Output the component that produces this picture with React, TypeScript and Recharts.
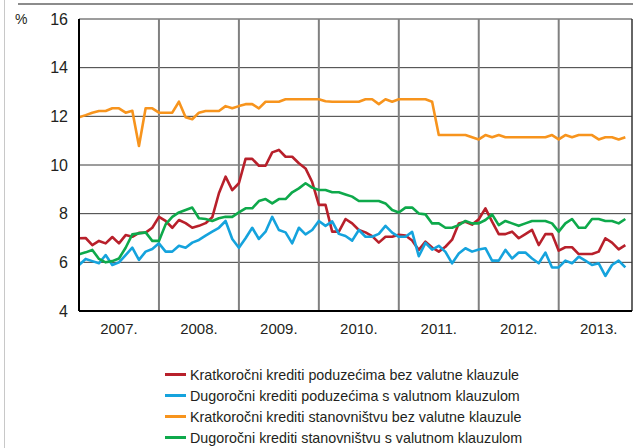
import { CartesianGrid, Line, LineChart, ReferenceLine, XAxis, YAxis } from 'recharts'

const years = ['2007.', '2008.', '2009.', '2010.', '2011.', '2012.', '2013.']
const yearTicks = years.map((_, i) => i * 12 + 6)
const yearBounds = [12, 24, 36, 48, 60, 72]
const yTicks = [4, 6, 8, 10, 12, 14, 16]

// mjesečne stope, siječanj 2007. – studeni 2013.
const kratkoPoduzeca = [
  6.99, 7.0, 6.71, 6.88, 6.78, 7.04, 6.78, 7.12, 7.05, 7.21,
  7.22, 7.42, 7.87, 7.7, 7.42, 7.74, 7.61, 7.42, 7.5, 7.61,
  7.85, 8.84, 9.52, 8.97, 9.25, 10.25, 10.25, 9.97, 9.97, 10.52,
  10.62, 10.34, 10.34, 10.07, 9.86, 9.3, 8.36, 8.36, 7.26, 7.26,
  7.78, 7.6, 7.33, 7.23, 7.08, 6.81, 7.05, 7.05, 7.13, 7.1,
  6.9, 6.51, 6.85, 6.61, 6.44, 6.64, 6.93, 7.6, 7.67, 7.55,
  7.77, 8.22, 7.67, 7.16, 7.16, 7.26, 6.99, 7.16, 7.33, 6.71,
  7.16, 7.16, 6.48, 6.62, 6.62, 6.34, 6.34, 6.34, 6.44, 6.99,
  6.81, 6.53, 6.71,
]
const dugoPoduzeca = [
  5.89, 6.14, 6.05, 5.96, 6.3, 5.89, 6.0, 6.3, 6.6, 6.1,
  6.44, 6.55, 6.78, 6.44, 6.44, 6.68, 6.6, 6.81, 6.92, 7.1,
  7.26, 7.42, 7.7, 6.96, 6.6, 6.99, 7.42, 6.96, 7.26, 7.87,
  7.33, 7.23, 6.78, 7.42, 7.15, 7.33, 7.7, 7.5, 7.68, 7.17,
  7.08, 6.89, 7.33, 7.05, 7.05, 7.17, 7.5, 7.22, 7.05, 7.05,
  7.25, 6.25, 6.8, 6.52, 6.68, 6.43, 5.96, 6.36, 6.58, 6.44,
  6.53, 6.58, 6.07, 6.07, 6.51, 6.16, 6.4, 6.4, 6.16, 5.96,
  6.4, 5.79, 5.79, 6.07, 5.96, 6.23, 6.07, 5.89, 5.96, 5.44,
  5.89, 6.07, 5.79,
]
const kratkoStanovnistvo = [
  11.96, 12.05, 12.15, 12.22, 12.22, 12.33, 12.33, 12.15, 12.23, 10.78,
  12.33, 12.33, 12.15, 12.15, 12.15, 12.6, 11.96, 11.88, 12.15, 12.22,
  12.22, 12.22, 12.42, 12.33, 12.42, 12.5, 12.5, 12.33, 12.6, 12.6,
  12.6, 12.7, 12.7, 12.7, 12.7, 12.7, 12.7, 12.62, 12.6, 12.6,
  12.6, 12.6, 12.6, 12.7, 12.7, 12.5, 12.7, 12.6, 12.7, 12.7,
  12.7, 12.7, 12.7, 12.6, 11.23, 11.23, 11.23, 11.23, 11.23, 11.14,
  11.05, 11.23, 11.14, 11.23, 11.14, 11.14, 11.14, 11.14, 11.14, 11.14,
  11.14, 11.23, 11.05, 11.23, 11.14, 11.23, 11.23, 11.23, 11.05, 11.14,
  11.14, 11.05, 11.14,
]
const dugoStanovnistvo = [
  6.33, 6.41, 6.51, 6.14, 6.0, 6.05, 6.16, 6.6, 7.15, 7.19,
  7.23, 6.88, 6.88, 7.56, 7.87, 8.05, 8.15, 8.25, 7.81, 7.78,
  7.7, 7.81, 7.87, 7.87, 8.05, 8.22, 8.22, 8.52, 8.6, 8.42,
  8.6, 8.6, 8.88, 9.04, 9.25, 9.07, 8.97, 8.97, 8.88, 8.88,
  8.79, 8.7, 8.52, 8.52, 8.52, 8.52, 8.42, 8.15, 8.05, 8.25,
  8.25, 8.01, 7.97, 7.6, 7.6, 7.42, 7.42, 7.53, 7.7, 7.6,
  7.6, 7.74, 7.97, 7.53, 7.7, 7.6, 7.5, 7.6, 7.7, 7.7,
  7.7, 7.6, 7.26, 7.6, 7.78, 7.42, 7.42, 7.78, 7.78, 7.7,
  7.7, 7.6, 7.78,
]

const series = [
  { key: 'kp', name: 'Kratkoročni krediti poduzećima bez valutne klauzule', color: '#b8202b' },
  { key: 'dp', name: 'Dugoročni krediti poduzećima s valutnom klauzulom', color: '#15a3dd' },
  { key: 'ks', name: 'Kratkoročni krediti stanovništvu bez valutne klauzule', color: '#f7941d' },
  { key: 'ds', name: 'Dugoročni krediti stanovništvu s valutnom klauzulom', color: '#0ea94b' },
]

const data = kratkoPoduzeca.map((v, i) => ({
  m: i,
  kp: v,
  dp: dugoPoduzeca[i],
  ks: kratkoStanovnistvo[i],
  ds: dugoStanovnistvo[i],
}))

const font = '"Liberation Sans", Arial, sans-serif'
const textColor = '#231f20'

export default function App() {
  return (
    <div
      style={{
        position: 'absolute',
        left: 0,
        top: 0,
        width: 633,
        height: 448,
        background: '#fff',
        fontFamily: font,
        color: textColor,
        overflow: 'hidden',
      }}
    >
      <div style={{ position: 'absolute', left: 4, top: 0, width: 1, height: 448, background: '#c8c8c8' }} />
      <div style={{ position: 'absolute', left: 18, top: 3, width: 615, height: 2, background: '#8c8c8c' }} />
      <div style={{ position: 'absolute', left: 15, top: 11, fontSize: 14 }}>%</div>

      <LineChart
        width={633}
        height={345}
        data={data}
        margin={{ top: 19, right: 1, bottom: 0, left: 0 }}
        style={{ position: 'absolute', left: 0, top: 0 }}
      >
        <CartesianGrid vertical={false} stroke="#3a3a3a" strokeWidth={1} />
        {yearBounds.map((b) => (
          <ReferenceLine key={b} x={b} stroke="#808080" strokeWidth={2} />
        ))}
        <ReferenceLine x={83} stroke="#333" strokeWidth={1.5} />
        <XAxis
          dataKey="m"
          type="number"
          domain={[0, 83]}
          ticks={yearTicks}
          tickFormatter={(v) => years[(v - 6) / 12]}
          tick={{ fill: textColor, fontSize: 15, fontFamily: font }}
          tickLine={false}
          tickSize={0}
          tickMargin={12}
          axisLine={{ stroke: '#000', strokeWidth: 2 }}
          height={34}
          allowDataOverflow
        />
        <YAxis
          domain={[4, 16]}
          ticks={yTicks}
          tick={{ fill: textColor, fontSize: 16, fontFamily: font }}
          tickLine={false}
          tickSize={0}
          tickMargin={11}
          axisLine={{ stroke: '#000', strokeWidth: 2 }}
          width={79}
        />
        {series.map((s) => (
          <Line
            key={s.key}
            type="linear"
            dataKey={s.key}
            stroke={s.color}
            strokeWidth={2.6}
            strokeLinejoin="round"
            dot={false}
            isAnimationActive={false}
          />
        ))}
      </LineChart>

      <div style={{ position: 'absolute', left: 165, top: 364 }}>
        {series.map((s) => (
          <div key={s.key} style={{ display: 'flex', alignItems: 'center', height: 21, fontSize: 14.3, whiteSpace: 'nowrap' }}>
            <span style={{ display: 'inline-block', width: 21, height: 3, background: s.color, marginRight: 4 }} />
            <span>{s.name}</span>
          </div>
        ))}
      </div>
    </div>
  )
}
